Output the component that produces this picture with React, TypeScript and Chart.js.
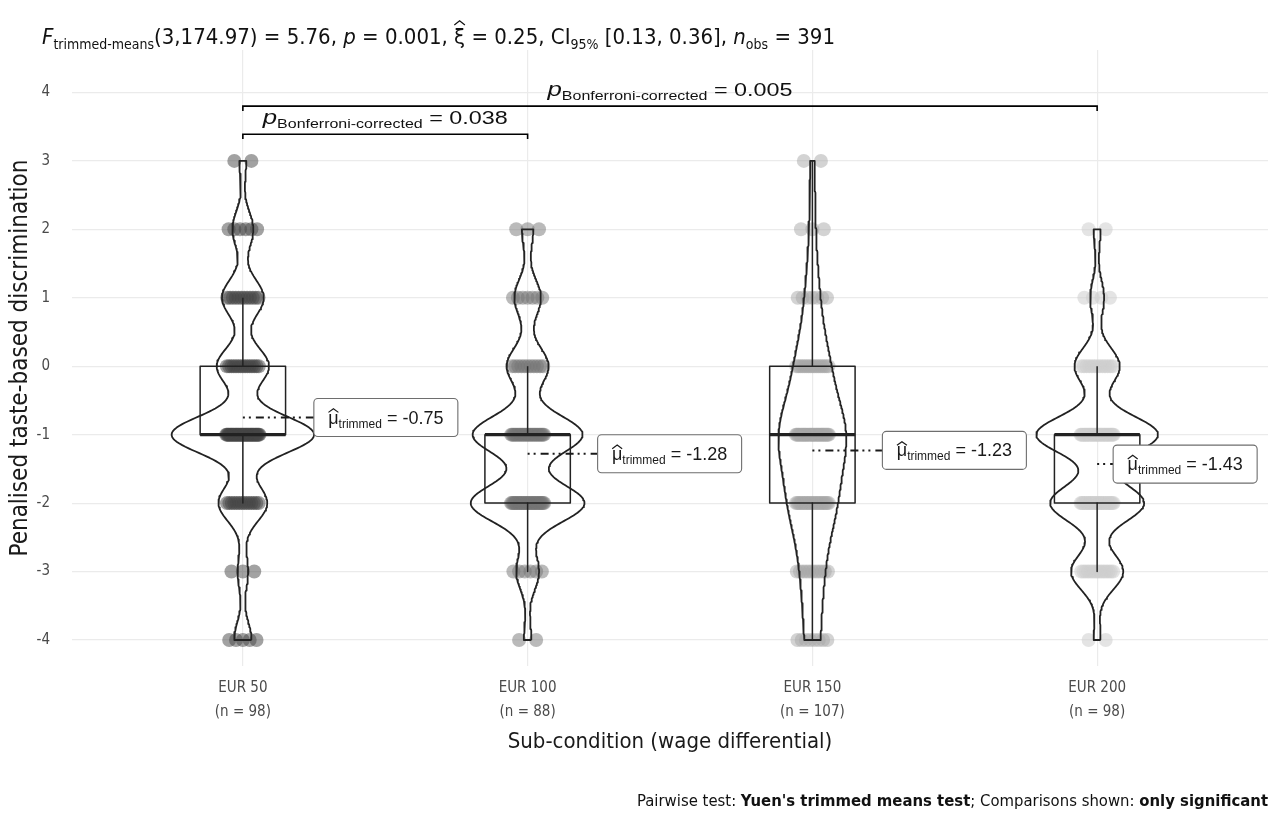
import React, { useEffect, useRef } from "react";
import { Chart, registerables } from "chart.js";

Chart.register(...registerables);

// ------------------------- data -------------------------
const CATEGORIES = ["EUR 50", "EUR 100", "EUR 150", "EUR 200"];
const SAMPLE_SIZES = [98, 88, 107, 98];
const SCORE_LEVELS = [-4, -3, -2, -1, 0, 1, 2, 3];
// number of respondents at each score level (same order as SCORE_LEVELS)
const COUNTS_EUR50 = [5, 3, 14, 41, 15, 12, 6, 2];
const COUNTS_EUR100 = [2, 6, 30, 29, 11, 7, 3, 0];
const COUNTS_EUR150 = [8, 11, 24, 35, 17, 7, 3, 2];
const COUNTS_EUR200 = [2, 15, 27, 35, 13, 4, 2, 0];
const TRIMMED_MEANS = [-0.75, -1.28, -1.23, -1.43];
const Y_TICKS = [-4, -3, -2, -1, 0, 1, 2, 3, 4];
const PAIR_FROM = [0, 0];
const PAIR_TO = [1, 3];
const PAIR_P = ["0.038", "0.005"];

const X_TITLE = "Sub-condition (wage differential)";
const Y_TITLE = "Penalised taste-based discrimination";

// ------------------------- layout / style -------------------------
const W = 1280;
const H = 817;
const PLOT_LEFT = 72;
const PLOT_RIGHT = 1268;
const PLOT_TOP = 50;
const PLOT_BOTTOM = 666;
const X_MIN = -0.6;
const X_MAX = 3.6;
const Y_MIN = -4.38;
const Y_MAX = 4.62;
const VIOLIN_WIDTH = 0.5;
const BOX_HALF = 0.15;
const JITTER_HALF = 0.06;
const LABEL_DX = [71, 70, 70, 16];
const LABEL_W = 144;
const LABEL_H = 38;
const BRACKET_Y = [3.39, 3.8];
const BRACKET_TIP = 0.07;

const COND_FONT =
  "'Liberation Sans Narrow', 'DejaVu Sans Condensed', 'Roboto Condensed', 'Liberation Sans', sans-serif";
const LABEL_FONT = "'Liberation Sans', Arial, sans-serif";
const POINT_COLORS = [
  "rgba(70,70,70,0.5)",
  "rgba(118,118,118,0.5)",
  "rgba(168,168,168,0.5)",
  "rgba(206,206,206,0.55)",
];
const LINE_COLOR = "#222222";

// ------------------------- statistics derived from the counts -------------------------
const COUNTS = [COUNTS_EUR50, COUNTS_EUR100, COUNTS_EUR150, COUNTS_EUR200];

function expand(counts: number[]): number[] {
  const out: number[] = [];
  counts.forEach((c, k) => {
    for (let j = 0; j < c; j++) out.push(SCORE_LEVELS[k]);
  });
  return out;
}
function quantile7(sorted: number[], p: number): number {
  const h = (sorted.length - 1) * p;
  const lo = Math.floor(h);
  const hi = Math.min(lo + 1, sorted.length - 1);
  return sorted[lo] + (h - lo) * (sorted[hi] - sorted[lo]);
}
function sd(x: number[]): number {
  const m = x.reduce((a, b) => a + b, 0) / x.length;
  const v = x.reduce((a, b) => a + (b - m) * (b - m), 0) / (x.length - 1);
  return Math.sqrt(v);
}
function bwNrd0(sorted: number[]): number {
  const s = sd(sorted);
  const iqr = quantile7(sorted, 0.75) - quantile7(sorted, 0.25);
  let lo = Math.min(s, iqr / 1.34);
  if (!(lo > 0)) lo = s || 1;
  return 0.9 * lo * Math.pow(sorted.length, -0.2);
}
function density(counts: number[], n: number, bw: number, y: number): number {
  let s = 0;
  counts.forEach((c, k) => {
    const z = (y - SCORE_LEVELS[k]) / bw;
    s += c * Math.exp(-0.5 * z * z);
  });
  return s / (n * bw * Math.sqrt(2 * Math.PI));
}

type Stats = {
  q1: number; med: number; q3: number; wLo: number; wHi: number;
  min: number; max: number; bw: number; n: number;
};
const STATS: Stats[] = COUNTS.map((counts) => {
  const x = expand(counts).sort((a, b) => a - b);
  const q1 = quantile7(x, 0.25);
  const med = quantile7(x, 0.5);
  const q3 = quantile7(x, 0.75);
  const iqr = q3 - q1;
  const inside = x.filter((v) => v >= q1 - 1.5 * iqr && v <= q3 + 1.5 * iqr);
  return {
    q1, med, q3,
    wLo: inside[0], wHi: inside[inside.length - 1],
    min: x[0], max: x[x.length - 1],
    bw: bwNrd0(x), n: x.length,
  };
});

const STEPS = 300;
const DENS = COUNTS.map((counts, g) => {
  const st = STATS[g];
  const arr: { y: number; d: number }[] = [];
  for (let i = 0; i <= STEPS; i++) {
    const y = st.min + ((st.max - st.min) * i) / STEPS;
    arr.push({ y, d: density(counts, st.n, st.bw, y) });
  }
  return arr;
});
const GLOBAL_MAX = Math.max(...DENS.flat().map((p) => p.d));

// ------------------------- datasets -------------------------
function lineDs(data: { x: number; y: number }[], width: number, order = 0) {
  return {
    data,
    showLine: true,
    fill: false,
    tension: 0,
    pointRadius: 0,
    pointHoverRadius: 0,
    borderColor: LINE_COLOR,
    borderWidth: width,
    borderJoinStyle: "round" as const,
    borderCapStyle: "butt" as const,
    order,
  };
}

function buildDatasets() {
  const ds: any[] = [];
  COUNTS.forEach((counts, g) => {
    const st = STATS[g];
    // violin outline
    const half = (d: number) => (VIOLIN_WIDTH / 2) * (d / GLOBAL_MAX);
    const right = DENS[g].map((p) => ({ x: g + half(p.d), y: p.y }));
    const left = DENS[g].slice().reverse().map((p) => ({ x: g - half(p.d), y: p.y }));
    const outline = [...right, ...left, right[0]];
    ds.push(lineDs(outline, 1.8, 1));
    // box
    ds.push(
      lineDs(
        [
          { x: g - BOX_HALF, y: st.q1 },
          { x: g + BOX_HALF, y: st.q1 },
          { x: g + BOX_HALF, y: st.q3 },
          { x: g - BOX_HALF, y: st.q3 },
          { x: g - BOX_HALF, y: st.q1 },
        ],
        1.5,
        2
      )
    );
    // median
    ds.push(lineDs([{ x: g - BOX_HALF, y: st.med }, { x: g + BOX_HALF, y: st.med }], 3.2, 0));
    // whiskers
    ds.push(lineDs([{ x: g, y: st.q3 }, { x: g, y: st.wHi }], 1.5, 2));
    ds.push(lineDs([{ x: g, y: st.q1 }, { x: g, y: st.wLo }], 1.5, 2));
    // jittered points
    const pts: { x: number; y: number }[] = [];
    counts.forEach((c, k) => {
      for (let j = 0; j < c; j++) {
        const off = c === 1 ? 0 : JITTER_HALF * ((2 * (j + 0.5)) / c - 1);
        pts.push({ x: g + off, y: SCORE_LEVELS[k] });
      }
    });
    ds.push({
      data: pts,
      showLine: false,
      pointRadius: 7,
      pointHoverRadius: 7,
      pointBorderWidth: 0,
      borderWidth: 0,
      backgroundColor: POINT_COLORS[g],
      pointBackgroundColor: POINT_COLORS[g],
      order: 10,
    });
  });
  return ds;
}

// ------------------------- rich text helper -------------------------
type Run = { t: string; size: number; italic?: boolean; bold?: boolean; dy?: number; hat?: number };

function runFont(r: Run, fam: string) {
  return `${r.italic ? "italic " : ""}${r.bold ? "bold " : ""}${r.size}px ${fam}`;
}
function drawRuns(
  ctx: CanvasRenderingContext2D,
  runs: Run[],
  fam: string,
  x: number,
  y: number,
  align: "left" | "center" | "right",
  color: string,
  fitWidth?: number
) {
  let natural = 0;
  for (const r of runs) {
    ctx.font = runFont(r, fam);
    natural += ctx.measureText(r.t).width;
  }
  const sx = fitWidth ? fitWidth / natural : 1;
  const total = natural * sx;
  const startX = align === "left" ? x : align === "center" ? x - total / 2 : x - total;
  ctx.save();
  ctx.translate(startX, y);
  ctx.scale(sx, 1);
  ctx.textBaseline = "alphabetic";
  ctx.textAlign = "left";
  ctx.fillStyle = color;
  ctx.strokeStyle = color;
  let cx = 0;
  for (const r of runs) {
    ctx.font = runFont(r, fam);
    const w = ctx.measureText(r.t).width;
    ctx.fillText(r.t, cx, r.dy || 0);
    if (r.hat) {
      const base = -r.size * r.hat;
      ctx.beginPath();
      ctx.lineWidth = 1.2;
      ctx.moveTo(cx + w * 0.02, base);
      ctx.lineTo(cx + w / 2, base - r.size * 0.2);
      ctx.lineTo(cx + w * 0.98, base);
      ctx.stroke();
    }
    cx += w;
  }
  ctx.restore();
}

function roundRect(ctx: CanvasRenderingContext2D, x: number, y: number, w: number, h: number, r: number) {
  ctx.beginPath();
  ctx.moveTo(x + r, y);
  ctx.lineTo(x + w - r, y);
  ctx.arcTo(x + w, y, x + w, y + r, r);
  ctx.lineTo(x + w, y + h - r);
  ctx.arcTo(x + w, y + h, x + w - r, y + h, r);
  ctx.lineTo(x + r, y + h);
  ctx.arcTo(x, y + h, x, y + h - r, r);
  ctx.lineTo(x, y + r);
  ctx.arcTo(x, y, x + r, y, r);
  ctx.closePath();
}

const overlayPlugin = {
  id: "overlay",
  afterDatasetsDraw(chart: any) {
    const ctx: CanvasRenderingContext2D = chart.ctx;
    const xs = chart.scales.x;
    const ys = chart.scales.y;
    // trimmed-mean segments and labels
    TRIMMED_MEANS.forEach((m, g) => {
      const cx = xs.getPixelForValue(g);
      const py = ys.getPixelForValue(m);
      const bx = cx + LABEL_DX[g];
      ctx.save();
      ctx.strokeStyle = "#1a1a1a";
      ctx.lineWidth = 2;
      ctx.setLineDash([2, 4, 2, 5, 8, 4]);
      ctx.beginPath();
      ctx.moveTo(cx, py);
      ctx.lineTo(bx, py);
      ctx.stroke();
      ctx.setLineDash([]);
      roundRect(ctx, bx, py - LABEL_H / 2, LABEL_W, LABEL_H, 4);
      ctx.fillStyle = "#ffffff";
      ctx.fill();
      ctx.strokeStyle = "#6e6e6e";
      ctx.lineWidth = 1.1;
      ctx.stroke();
      ctx.restore();
      drawRuns(
        ctx,
        [
          { t: "μ", size: 18, hat: 0.62 },
          { t: "trimmed", size: 12, dy: 4 },
          { t: " = " + m.toFixed(2), size: 18 },
        ],
        LABEL_FONT,
        bx + LABEL_W / 2,
        py + 6,
        "center",
        "#1a1a1a"
      );
    });
    // significance brackets
    PAIR_FROM.forEach((a, i) => {
      const b = PAIR_TO[i];
      const x1 = xs.getPixelForValue(a);
      const x2 = xs.getPixelForValue(b);
      const yb = ys.getPixelForValue(BRACKET_Y[i]);
      const yt = ys.getPixelForValue(BRACKET_Y[i] - BRACKET_TIP);
      ctx.save();
      ctx.strokeStyle = "#000";
      ctx.lineWidth = 1.6;
      ctx.beginPath();
      ctx.moveTo(x1, yt);
      ctx.lineTo(x1, yb);
      ctx.lineTo(x2, yb);
      ctx.lineTo(x2, yt);
      ctx.stroke();
      ctx.restore();
      drawRuns(
        ctx,
        [
          { t: "p", size: 21, italic: true },
          { t: "Bonferroni-corrected", size: 13, dy: 4 },
          { t: " = " + PAIR_P[i], size: 19 },
        ],
        LABEL_FONT,
        (x1 + x2) / 2,
        yb - 10,
        "center",
        "#111",
        245
      );
    });
  },
  afterDraw(chart: any) {
    const ctx: CanvasRenderingContext2D = chart.ctx;
    // subtitle with test statistics
    drawRuns(
      ctx,
      [
        { t: "F", size: 22, italic: true },
        { t: "trimmed-means", size: 14, dy: 5 },
        { t: "(3,174.97) = 5.76, ", size: 22 },
        { t: "p", size: 22, italic: true },
        { t: " = 0.001, ", size: 22 },
        { t: "ξ", size: 22, hat: 0.86 },
        { t: " = 0.25, CI", size: 22 },
        { t: "95%", size: 14, dy: 5 },
        { t: " [0.13, 0.36], ", size: 22 },
        { t: "n", size: 22, italic: true },
        { t: "obs", size: 14, dy: 5 },
        { t: " = 391", size: 22 },
      ],
      COND_FONT,
      42,
      44,
      "left",
      "#111",
      793
    );
    // caption
    drawRuns(
      ctx,
      [
        { t: "Pairwise test: ", size: 15 },
        { t: "Yuen's trimmed means test", size: 15, bold: true },
        { t: "; Comparisons shown: ", size: 15 },
        { t: "only significant", size: 15, bold: true },
      ],
      COND_FONT,
      1268,
      806,
      "right",
      "#111",
      631
    );
  },
};

export default function App() {
  const ref = useRef<HTMLCanvasElement>(null);
  useEffect(() => {
    if (!ref.current) return;
    const chart = new Chart(ref.current, {
      type: "scatter",
      data: { datasets: buildDatasets() },
      options: {
        animation: false,
        responsive: true,
        maintainAspectRatio: false,
        events: [],
        layout: { padding: { top: PLOT_TOP, right: W - PLOT_RIGHT, left: 0, bottom: 0 } },
        plugins: {
          legend: { display: false },
          tooltip: { enabled: false },
          title: { display: false },
        },
        scales: {
          x: {
            type: "linear",
            min: X_MIN,
            max: X_MAX,
            afterBuildTicks: (s: any) => {
              s.ticks = CATEGORIES.map((_, i) => ({ value: i }));
            },
            afterFit: (s: any) => {
              s.height = H - PLOT_BOTTOM;
            },
            ticks: {
              autoSkip: false,
              maxRotation: 0,
              minRotation: 0,
              padding: 10,
              color: "#4a4a4a",
              font: { family: COND_FONT, size: 15, lineHeight: 1.6 },
              callback: (v: any) => [CATEGORIES[v], `(n = ${SAMPLE_SIZES[v]})`],
            },
            grid: { color: "#ebebeb", lineWidth: 1.2, drawTicks: false },
            border: { display: false },
            title: {
              display: true,
              text: X_TITLE,
              color: "#1a1a1a",
              font: { family: COND_FONT, size: 22, lineHeight: 1.2 },
              padding: { top: 0, bottom: H - 742 - 13.2 },
            },
          },
          y: {
            type: "linear",
            min: Y_MIN,
            max: Y_MAX,
            afterBuildTicks: (s: any) => {
              s.ticks = Y_TICKS.map((v) => ({ value: v }));
            },
            afterFit: (s: any) => {
              s.width = PLOT_LEFT;
            },
            ticks: {
              padding: 22,
              color: "#4a4a4a",
              font: { family: COND_FONT, size: 15 },
              callback: (v: any) => String(v),
            },
            grid: { color: "#ebebeb", lineWidth: 1.2, drawTicks: false },
            border: { display: false },
            title: {
              display: true,
              text: Y_TITLE,
              color: "#1a1a1a",
              font: { family: COND_FONT, size: 24, lineHeight: 1.2 },
              padding: { top: 6, bottom: 0 },
            },
          },
        },
      },
      plugins: [overlayPlugin],
    } as any);
    return () => chart.destroy();
  }, []);
  return (
    <div style={{ position: "fixed", left: 0, top: 0, width: W, height: H, background: "#fff" }}>
      <canvas ref={ref} />
    </div>
  );
}
